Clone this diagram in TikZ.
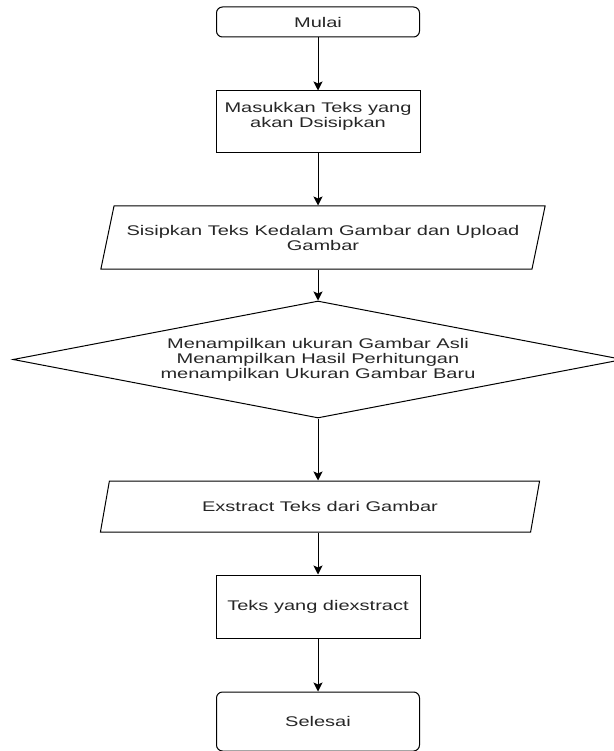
\documentclass[tikz,border=0pt]{standalone}
\usepackage{fontspec}
\setmainfont[FakeStretch=1.43]{Liberation Sans}
\usetikzlibrary{shapes.geometric,arrows.meta}
\definecolor{teks}{HTML}{262626}

\begin{document}
\begin{tikzpicture}[x=1pt,y=-1pt,
    box/.style={draw,line width=1pt,align=center,inner sep=0pt,
      font=\fontsize{14}{15}\selectfont,text=teks},
    terminal/.style={box,rounded corners=6pt,minimum width=203pt},
    proses/.style={box,minimum width=204pt},
    io/.style={box,trapezium,trapezium left angle=64,trapezium right angle=116,
      trapezium stretches=true},
    cek/.style={box,diamond,shape aspect=5.2,minimum width=610pt,minimum height=117pt},
    flow/.style={line width=1pt,-{Stealth[width=9pt,length=9pt,inset=2pt]}}]
  \useasboundingbox (0,0) rectangle (613,751);

  \path
  (318,22) node[terminal,minimum height=30pt](mulai) {Mulai}
  (318,122) node[proses,minimum height=62pt](masuk) {Masukkan Teks yang\\akan Dsisipkan\\\mbox{}}
  (323,237.5) node[io,minimum width=447pt,minimum height=63pt](sisip) {Sisipkan Teks Kedalam Gambar dan Upload\\Gambar}
  (318,359.5) node[cek](tampil) {Menampilkan ukuran Gambar Asli\\Menampilkan Hasil Perhitungan\\menampilkan Ukuran Gambar Baru}
  (320,506.5) node[io,minimum width=440pt,minimum height=51pt](ekstrak) {Exstract Teks dari Gambar}
  (318,606.5) node[proses,minimum height=63pt](hasil) {Teks yang diexstract}
  (318,721.5) node[terminal,minimum height=59pt](selesai) {Selesai}
  ;

  \draw[flow] (mulai) -- (masuk);
  \draw[flow] (masuk) -- (masuk |- sisip.north);
  \draw[flow] (sisip.south -| masuk) -- (tampil);
  \draw[flow] (tampil) -- (tampil |- ekstrak.north);
  \draw[flow] (ekstrak.south -| tampil) -- (hasil);
  \draw[flow] (hasil) -- (selesai);
\end{tikzpicture}
\end{document}
